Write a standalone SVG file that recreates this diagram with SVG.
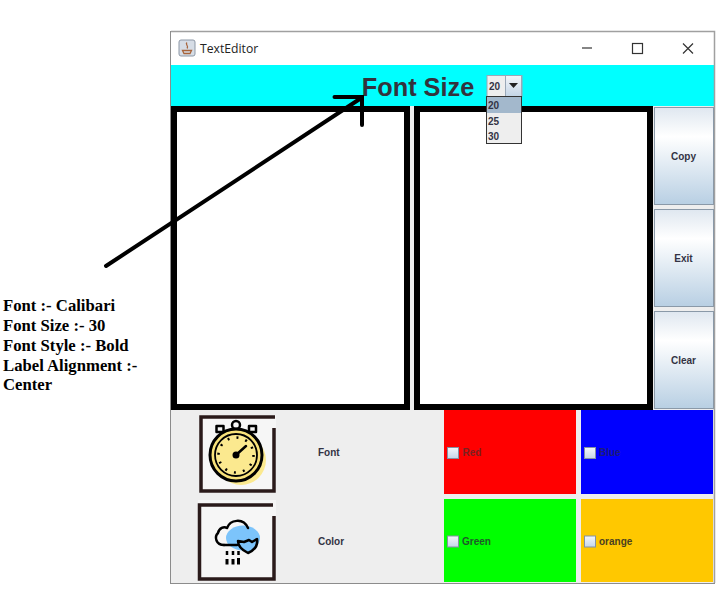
<svg xmlns="http://www.w3.org/2000/svg" width="717" height="600" viewBox="0 0 717 600">
<style>
.ui{font-family:"Liberation Sans",Arial,sans-serif;font-weight:bold;font-size:10px;fill:#333344}
.note{font-family:"Liberation Serif","Times New Roman",serif;font-weight:bold;font-size:16.7px;fill:#000}
.ta{fill:#fff;stroke:#000;stroke-width:6}
.btn{fill:url(#btnGrad);stroke:#8a99a8;stroke-width:1}
.chk{fill:url(#chkGrad);stroke:#8391a3;stroke-width:1}
.frame{fill:none;stroke:#2a1a1a;stroke-width:3.5}
.ink{fill:none;stroke:#000;stroke-width:2.5;stroke-linecap:round;stroke-linejoin:round}
.arrow{fill:none;stroke:#000;stroke-width:4;stroke-linecap:round}
</style>
<defs>
<linearGradient id="btnGrad" x1="0" y1="0" x2="0" y2="1">
<stop offset="0" stop-color="#dfe7f0"/><stop offset=".3" stop-color="#ffffff"/><stop offset="1" stop-color="#b8cfe3"/>
</linearGradient>
<linearGradient id="chkGrad" x1="0" y1="0" x2="0" y2="1">
<stop offset="0" stop-color="#f4f7fb"/><stop offset="1" stop-color="#c5d6e8"/>
</linearGradient>
<linearGradient id="comboGrad" x1="0" y1="0" x2="0" y2="1">
<stop offset="0" stop-color="#f4f6f9"/><stop offset="1" stop-color="#c3d4e6"/>
</linearGradient>
</defs>
<rect width="717" height="600" fill="#fff"/>

<g id="window">
<rect x="170.5" y="31.5" width="544" height="552" fill="#eeeeee" stroke="#8c8c8c" stroke-width="1"/>
<rect x="171" y="32" width="543" height="33" fill="#fff"/>
<rect x="171" y="65" width="543" height="41" fill="#00ffff"/>
<path d="M171 31.5H714.5V583" fill="none" stroke="#a0a0a0" stroke-width="1.5"/>
</g>

<g id="titlebar">
<rect x="179" y="40" width="16" height="16" rx="2" fill="#d6dde6" stroke="#8d98a6"/>
<path d="M182.500 50.500h9l-1.500 3h-6zM187 42.500c-2.500 2 2.500 3.500 0 6" fill="none" stroke="#a8643a" stroke-width="1.300"/>
<text x="200" y="53" font-family="'Open Sans','Liberation Sans',sans-serif" font-size="12.200" fill="#222">TextEditor</text>
<path d="M582 48h10" stroke="#333" stroke-width="1.200" fill="none"/>
<rect x="632.500" y="43.500" width="10" height="10" fill="none" stroke="#333" stroke-width="1.200"/>
<path d="M683 43.500l10 10M693 43.500l-10 10" stroke="#333" stroke-width="1.200" fill="none"/>
</g>

<g id="heading">
<text x="418" y="96" text-anchor="middle" font-family="'Liberation Sans',Arial,sans-serif" font-weight="bold" font-size="25.300" fill="#33333d">Font Size</text>
</g>

<g id="text-area-left"><rect class="ta" x="174" y="109" width="233" height="298"/></g>
<g id="text-area-right"><rect class="ta" x="417" y="109" width="233" height="298"/></g>

<g id="button-copy"><rect class="btn" x="654.500" y="107.500" width="59" height="97"/><text class="ui" x="683.500" y="160" text-anchor="middle">Copy</text></g>
<g id="button-exit"><rect class="btn" x="654.500" y="209.500" width="59" height="97"/><text class="ui" x="683.500" y="262" text-anchor="middle">Exit</text></g>
<g id="button-clear"><rect class="btn" x="654.500" y="311.500" width="59" height="97"/><text class="ui" x="683.500" y="364" text-anchor="middle">Clear</text></g>

<g id="combo">
<rect x="487" y="75.500" width="35" height="21" fill="#eeeeee" stroke="#9aa8b8"/>
<rect x="505.500" y="75.500" width="16" height="21" fill="url(#comboGrad)" stroke="#9aa8b8"/>
<path d="M509 83h9l-4.500 5z" fill="#222"/>
<text class="ui" x="489" y="90">20</text>
</g>
<g id="combo-list">
<rect x="486.500" y="96.500" width="35" height="47" fill="#eeeeee" stroke="#333"/>
<rect x="487" y="97" width="34" height="16" fill="#a3b8cc"/>
<text class="ui" x="488" y="109">20</text>
<text class="ui" x="488" y="125">25</text>
<text class="ui" x="488" y="140">30</text>
</g>

<g id="icon-stopwatch">
<rect x="199" y="415" width="77" height="78" fill="#f6f6f6"/>
<path class="frame" d="M275 417H201V491H274V428"/>
<circle cx="241" cy="460" r="25" fill="#fbe98f"/>
<rect x="216.500" y="426" width="7" height="6" class="ink"/>
<rect x="249" y="426" width="7" height="6" class="ink"/>
<circle cx="236" cy="425" r="4" fill="#f6f6f6" stroke="#000" stroke-width="2.500"/>
<circle cx="236" cy="455" r="26" fill="#f8e27a" stroke="#000" stroke-width="3"/>
<circle cx="236" cy="455" r="21" fill="#fbe98f" stroke="#000" stroke-width="1.800"/>
<circle cx="236" cy="455" r="17.500" fill="none" stroke="#000" stroke-width="2.500" stroke-dasharray="2 7.160"/>
<path d="M236 455L246 446" class="ink"/>
<circle cx="236" cy="455" r="3.500" fill="#000"/>
</g>

<g id="label-font"><text class="ui" x="318" y="456">Font</text></g>

<g id="icon-cloud">
<rect x="198" y="500" width="78" height="81" fill="#f6f6f6"/>
<path class="frame" d="M273 505H199.500V579H274V516"/>
<ellipse cx="243" cy="538" rx="17" ry="12.500" fill="#7cc4fb"/>
<path d="M224 545c-8 0-10-8-6-12c1-5 6-7 9-5c3-8 16-11 21 0" class="ink"/>
<path d="M224 545h13" class="ink"/>
<path d="M238 541l6 1l5-2l3 2l5-3c1 6-2 11-9 14c-6-3-10-6-10-12z" fill="#7cc4fb" stroke="#000" stroke-width="2.500" stroke-linejoin="round"/>
<path d="M227 551v4M233 551v4M238.500 551v4" stroke="#000" stroke-width="2.500" fill="none"/>
<path d="M227 559v5.500M233 559v5.500M238.500 558v6.500" stroke="#000" stroke-width="3" fill="none"/>
</g>

<g id="label-color"><text class="ui" x="318" y="545">Color</text></g>

<g id="panel-red"><rect x="444" y="410" width="132" height="84" fill="#ff0000"/><rect class="chk" x="447.500" y="447.500" width="11" height="11"/><text class="ui" x="462.500" y="456" style="fill:#7a2020">Red</text></g>
<g id="panel-blue"><rect x="581" y="410" width="132" height="84" fill="#0000ff"/><rect class="chk" x="584.500" y="447.500" width="11" height="11"/><text class="ui" x="599" y="456" style="fill:#1c1c78">Blue</text></g>
<g id="panel-green"><rect x="444" y="499" width="132" height="83" fill="#00ff00"/><rect class="chk" x="447.500" y="536" width="11" height="11"/><text class="ui" x="462" y="545" style="fill:#1f5a2a">Green</text></g>
<g id="panel-orange"><rect x="581" y="499" width="132" height="83" fill="#ffc800"/><rect class="chk" x="584.500" y="536" width="11" height="11"/><text class="ui" x="599" y="545" style="fill:#4a4020">orange</text></g>

<g id="connectors">
<path class="arrow" d="M106 266L362 97.500M334.500 97H362V125"/>
</g>

<g id="note">
<text class="note" x="3" y="311">Font :- Calibari</text>
<text class="note" x="3" y="331">Font Size :- 30</text>
<text class="note" x="3" y="351">Font Style :- Bold</text>
<text class="note" x="3" y="371">Label Alignment :-</text>
<text class="note" x="3" y="390">Center</text>
</g>
</svg>
